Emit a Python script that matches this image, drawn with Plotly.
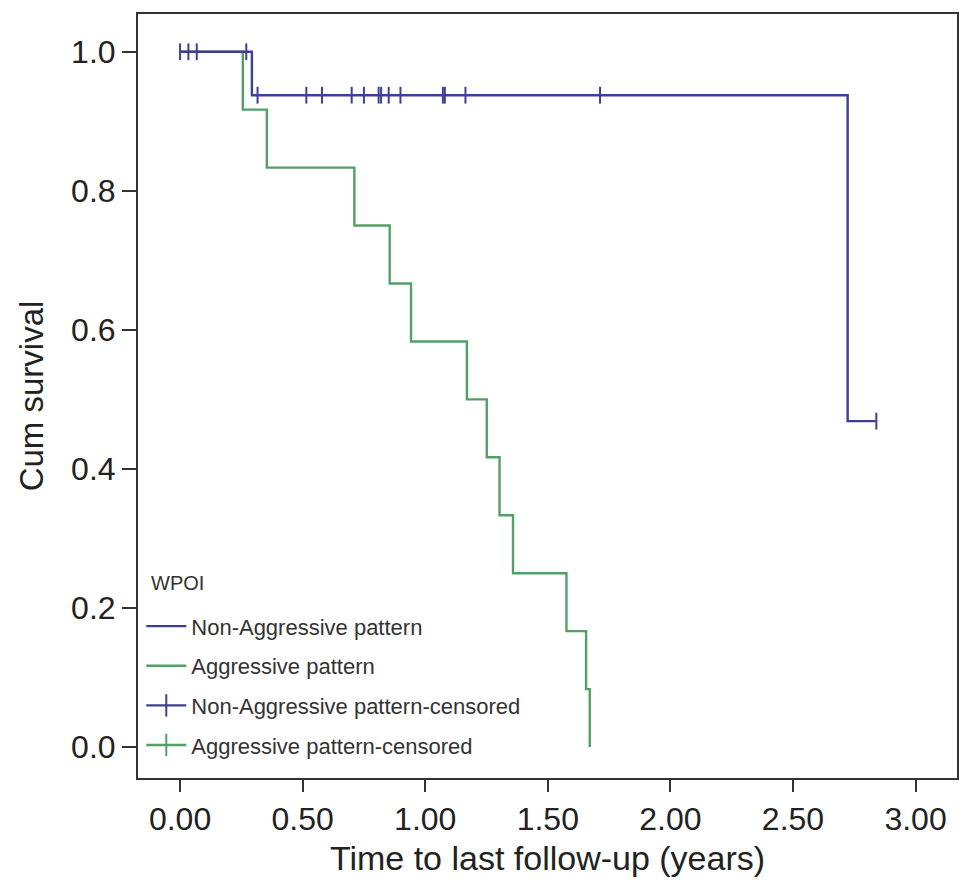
import plotly.graph_objects as go

# ---- data ----
non_aggr_times = [0.0, 0.293, 2.723, 2.84]
non_aggr_surv = [1.0, 0.9375, 0.46875, 0.46875]

aggr_times = [0.0, 0.256, 0.354, 0.711, 0.855, 0.942, 1.170, 1.251, 1.303, 1.358, 1.576, 1.656, 1.671]
aggr_surv = [1.0, 0.9167, 0.8333, 0.75, 0.6667, 0.5833, 0.5, 0.4167, 0.3333, 0.25, 0.1667, 0.0833, 0.0]

non_aggr_cens_times = [0.0, 0.034, 0.068, 0.27, 0.316, 0.515, 0.579, 0.70, 0.75, 0.81, 0.82,
                       0.851, 0.899, 1.072, 1.08, 1.164, 1.713, 2.84]
non_aggr_cens_surv = [1.0, 1.0, 1.0, 1.0, 0.9375, 0.9375, 0.9375, 0.9375, 0.9375, 0.9375, 0.9375,
                      0.9375, 0.9375, 0.9375, 0.9375, 0.9375, 0.9375, 0.46875]

x_ticks = [0.0, 0.5, 1.0, 1.5, 2.0, 2.5, 3.0]
y_ticks = [0.0, 0.2, 0.4, 0.6, 0.8, 1.0]

BLUE = "#3f3f94"
GREEN = "#52a068"
FONT = "Liberation Sans, Arial, Helvetica, sans-serif"

fig = go.Figure()

fig.add_trace(go.Scatter(
    x=aggr_times, y=aggr_surv, mode="lines", line=dict(color=GREEN, width=2.4, shape="hv"),
    name="Aggressive pattern", showlegend=False, hoverinfo="skip"))
fig.add_trace(go.Scatter(
    x=non_aggr_times, y=non_aggr_surv, mode="lines", line=dict(color=BLUE, width=2.4, shape="hv"),
    name="Non-Aggressive pattern", showlegend=False, hoverinfo="skip"))
fig.add_trace(go.Scatter(
    x=non_aggr_cens_times, y=non_aggr_cens_surv, mode="markers",
    marker=dict(symbol="line-ns", size=12, line=dict(color=BLUE, width=2)),
    name="Non-Aggressive pattern-censored", showlegend=False, hoverinfo="skip"))

# legend entries
fig.add_trace(go.Scatter(x=[None], y=[None], mode="lines", line=dict(color=BLUE, width=2.4),
                         name="Non-Aggressive pattern", legendgroup="a"))
fig.add_trace(go.Scatter(x=[None], y=[None], mode="lines", line=dict(color=GREEN, width=2.4),
                         name="Aggressive pattern", legendgroup="b"))
fig.add_trace(go.Scatter(x=[None], y=[None], mode="lines+markers", line=dict(color=BLUE, width=2.4),
                         marker=dict(symbol="line-ns", size=16, line=dict(color=BLUE, width=2)),
                         name="Non-Aggressive pattern-censored", legendgroup="c"))
fig.add_trace(go.Scatter(x=[None], y=[None], mode="lines+markers", line=dict(color=GREEN, width=2.4),
                         marker=dict(symbol="line-ns", size=16, line=dict(color=GREEN, width=2)),
                         name="Aggressive pattern-censored", legendgroup="d"))

fig.add_annotation(text="WPOI", xref="paper", yref="paper", x=0.0135, y=0.255,
                   xanchor="left", yanchor="middle", showarrow=False,
                   font=dict(size=20, color="#333333", family=FONT))

fig.update_layout(
    width=953, height=879,
    margin=dict(l=130, r=2, t=6, b=109),
    paper_bgcolor="white", plot_bgcolor="white",
    font=dict(family=FONT, color="#222222"),
    legend=dict(
        x=0.004, y=0.226, xanchor="left", yanchor="top",
        font=dict(size=22, color="#333333"),
        bgcolor="rgba(0,0,0,0)", tracegroupgap=8, itemwidth=40,
    ),
    xaxis=dict(
        range=[-0.1716, 3.169], tickvals=x_ticks, tickformat=".2f",
        ticks="outside", ticklen=12, tickwidth=2, tickcolor="#333333",
        showline=True, linewidth=2, linecolor="#333333", mirror=True,
        showgrid=False, zeroline=False,
        tickfont=dict(size=32, color="#222222"),
        title=dict(text="Time to last follow-up (years)", font=dict(size=34, color="#222222"), standoff=10),
    ),
    yaxis=dict(
        range=[-0.0446, 1.0543], tickvals=y_ticks, tickformat=".1f",
        ticks="outside", ticklen=14, tickwidth=2, tickcolor="#333333",
        showline=True, linewidth=2, linecolor="#333333", mirror=True,
        showgrid=False, zeroline=False,
        tickfont=dict(size=32, color="#222222"),
        title=dict(text="Cum survival", font=dict(size=33, color="#222222"), standoff=18),
    ),
)

fig.write_html("out.html")
